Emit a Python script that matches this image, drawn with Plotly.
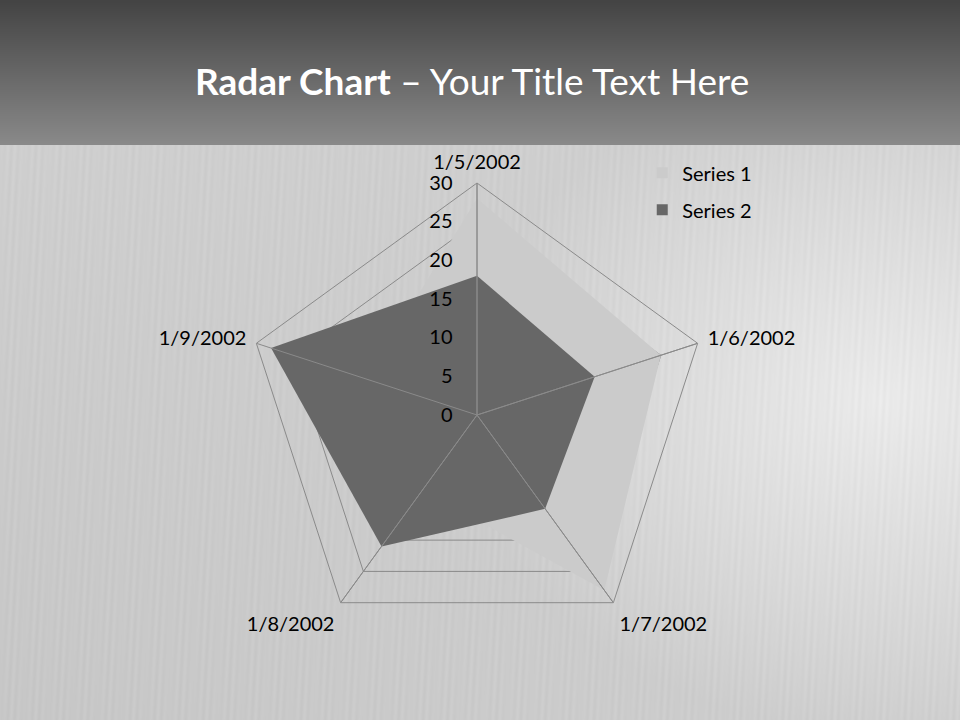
import base64, struct, zlib
import numpy as np
import plotly.graph_objects as go

# ---- data ----
categories = ["1/5/2002", "1/6/2002", "1/7/2002", "1/8/2002", "1/9/2002"]
series1 = [28, 25, 28, 12, 15]
series2 = [18, 16, 15, 21, 28]
radial_ticks = [0, 5, 10, 15, 20, 25, 30]
series_names = ["Series 1", "Series 2"]
series_colors = ["#cbcbcb", "#676767"]

W, H = 960, 720
FONT = "Lato"
GRID = "#8a8a8a"

# ---- background image (header gradient + light brushed panel) ----
def make_bg():
    yy, xx = np.mgrid[0:H, 0:W].astype(float)
    img = np.zeros((H, W), dtype=float)
    head = yy < 145
    img[head] = 68 + (138 - 68) * (yy[head] / 145.0)
    body = ~head
    d = np.sqrt(((xx - 880) / 420.0) ** 2 + ((yy - 400) / 330.0) ** 2)
    light = 207 + 28 * np.clip(1 - d, 0, 1) - 8 * ((yy - 145) / 575.0) * (1 - xx / W)
    streak = 3 * np.sin(xx * 0.9 + yy * 0.05) * np.sin(xx * 0.13)
    img[body] = (light + streak)[body]
    img = np.clip(img, 0, 255).astype(np.uint8)
    rgb = np.repeat(img[:, :, None], 3, axis=2)
    raw = b"".join(b"\x00" + rgb[r].tobytes() for r in range(H))
    def chunk(t, d):
        c = struct.pack(">I", len(d)) + t + d
        return c + struct.pack(">I", zlib.crc32(t + d) & 0xFFFFFFFF)
    png = b"\x89PNG\r\n\x1a\n" + chunk(b"IHDR", struct.pack(">IIBBBBB", W, H, 8, 2, 0, 0, 0)) \
        + chunk(b"IDAT", zlib.compress(raw, 9)) + chunk(b"IEND", b"")
    return "data:image/png;base64," + base64.b64encode(png).decode()

fig = go.Figure()

for vals, name, col in zip([series1, series2], series_names, series_colors):
    fig.add_trace(go.Scatterpolar(
        r=vals + [vals[0]], theta=categories + [categories[0]],
        name=name, mode="lines", fill="toself",
        fillcolor=col, line=dict(width=0, color=col), showlegend=False,
        hoverinfo="r+theta"))

# spokes drawn above the fills
sp_r, sp_t = [], []
for c in categories:
    sp_r += [radial_ticks[0], radial_ticks[-1]]
    sp_t += [c, c]
fig.add_trace(go.Scatterpolar(r=sp_r, theta=sp_t, mode="lines",
                              line=dict(color=GRID, width=1),
                              showlegend=False, hoverinfo="skip"))

# legend entries (square swatches)
for name, col in zip(series_names, series_colors):
    fig.add_trace(go.Scatterpolar(r=[None], theta=[categories[0]], mode="markers",
                                  name=name, legendgroup=name,
                                  marker=dict(symbol="square", size=11, color=col)))

cx, cy, R = 477, 415, 232
fig.update_layout(
    width=W, height=H,
    margin=dict(l=0, r=0, t=0, b=0),
    paper_bgcolor="#d0d0d0",
    font=dict(family=FONT, size=20, color="#000000"),
    images=[dict(source=make_bg(), xref="paper", yref="paper", x=0, y=1,
                 sizex=1, sizey=1, xanchor="left", yanchor="top",
                 sizing="stretch", layer="below")],
    polar=dict(
        domain=dict(x=[(cx - R) / W, (cx + R) / W],
                    y=[(H - cy - R) / H, (H - cy + R) / H]),
        bgcolor="rgba(0,0,0,0)",
        gridshape="linear",
        radialaxis=dict(range=[0, 30], tickvals=radial_ticks, angle=90,
                        side="counterclockwise", showline=False,
                        ticks="outside", ticklen=17, tickcolor="rgba(0,0,0,0)",
                        showgrid=True, gridcolor=GRID, gridwidth=1,
                        tickfont=dict(size=20, color="#000000"),
                        tickangle=90),
        angularaxis=dict(direction="clockwise", rotation=90,
                         showline=True, linecolor=GRID, linewidth=1,
                         showgrid=False, ticks="outside", ticklen=6,
                         tickcolor="rgba(0,0,0,0)",
                         tickfont=dict(size=20, color="#000000")),
    ),
    legend=dict(x=0.669, y=0.787, xanchor="left", yanchor="top",
                bgcolor="rgba(0,0,0,0)", font=dict(size=20),
                tracegroupgap=8),
    annotations=[dict(text="<b>Radar Chart</b> – Your Title Text Here",
                      xref="paper", yref="paper", x=472 / W, y=1 - 80 / H,
                      xanchor="center", yanchor="middle", showarrow=False,
                      font=dict(family=FONT, size=37, color="#ffffff"))],
)

fig.write_html("out.html", config={"displayModeBar": False},
               post_script="document.body.style.margin='0';document.body.style.padding='0';")
